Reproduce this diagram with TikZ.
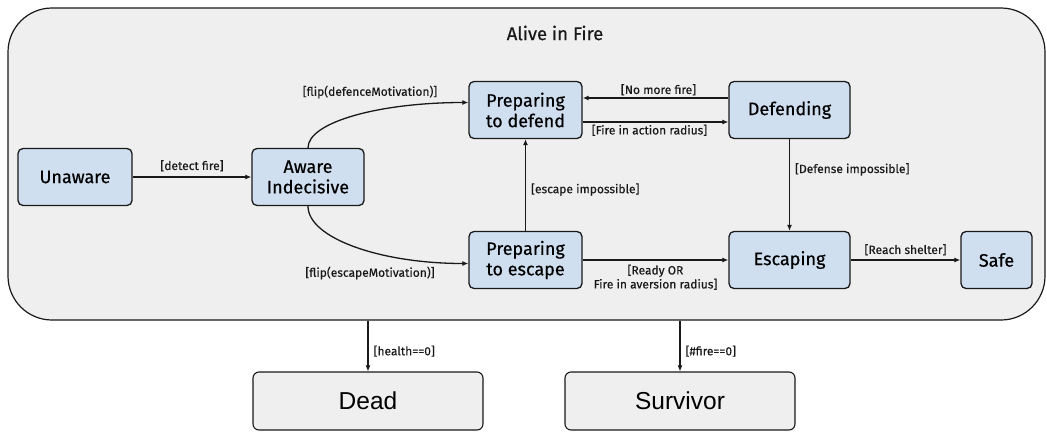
\documentclass[tikz,border=0pt]{standalone}
\usepackage{fontspec}
\setmainfont{Fira Sans}
\newfontfamily\arialfont{Liberation Sans}
\usetikzlibrary{arrows.meta}
\definecolor{stateblue}{RGB}{207,223,240}
\definecolor{bggrey}{RGB}{239,239,239}
\definecolor{edgec}{RGB}{25,25,25}
\tikzset{
  statebox/.style={draw=edgec, fill=stateblue, rounded corners=5pt, line width=1.3pt,
    minimum height=57pt, align=center, inner sep=2pt,
    font=\addfontfeatures{FakeBold=0.5}\fontsize{18}{20.5}\selectfont},
  endbox/.style={draw=edgec, fill=bggrey, rounded corners=6pt, line width=1.1pt,
    minimum height=58pt, minimum width=230pt, font=\arialfont\fontsize{24.5}{27}\selectfont},
  container/.style={draw=edgec, fill=bggrey, rounded corners=44pt, line width=1.2pt},
  arr/.style={draw=edgec, line width=1.3pt, -{Latex[length=6pt,width=5pt]}},
  lbl/.style={font=\addfontfeatures{FakeBold=0.3}\fontsize{12}{14}\selectfont, inner sep=2pt, text=edgec},
}
\begin{document}
\begin{tikzpicture}[x=1pt,y=-1pt]
\useasboundingbox (0,0) rectangle (1047,432);
\fill[white] (0,0) rectangle (1047,432);
\node[container, minimum width=1037pt, minimum height=312pt] (alive) at (526.5,164) {};
\node[font=\addfontfeatures{FakeBold=0.5}\fontsize{18.5}{21}\selectfont, text=edgec] (title) at (555,33) {Alive in Fire};

\node[statebox, minimum width=114pt] (unaware) at (75,177) {Unaware};
\node[statebox, minimum width=112pt] (aware) at (308,177) {Aware\\Indecisive};
\node[statebox, minimum width=113pt] (pdefend) at (525.5,110) {Preparing\\to defend};
\node[statebox, minimum width=121pt] (defending) at (789.5,110) {Defending};
\node[statebox, minimum width=113pt] (pescape) at (525.5,260) {Preparing\\to escape};
\node[statebox, minimum width=121pt] (escaping) at (789.5,260) {Escaping};
\node[statebox, minimum width=71pt] (safe) at (996.5,260) {Safe};

\node[endbox] (dead) at (368,401) {Dead};
\node[endbox] (survivor) at (680,401) {Survivor};

\coordinate (defin) at ([yshift=7.5pt]pdefend.west);
\coordinate (escin) at ([yshift=-3.5pt]pescape.west);

\draw[arr] (unaware) -- (aware) node[lbl, midway, above=3pt] {[detect fire]};
\draw[arr] (aware.north) .. controls +(0,-26) and +(-88,0) .. (defin)
  node[lbl] at (370,92) {[flip(defenceMotivation)]};
\draw[arr] (aware.south) .. controls +(0,32) and +(-88,0) .. (escin)
  node[lbl] at (370,273) {[flip(escapeMotivation)]};
\draw[arr] (pescape) -- (pdefend) node[lbl, pos=0.45, right=3pt] {[escape impossible]};
\draw[arr] ([yshift=12pt]defending.west) -- ([yshift=12pt]pdefend.east)
  node[lbl, midway, above=0pt, xshift=3pt] {[No more fire]};
\draw[arr] ([yshift=-12pt]pdefend.east) -- ([yshift=-12pt]defending.west)
  node[lbl, midway, below=0pt, xshift=-6pt] {[Fire in action radius]};
\draw[arr] (defending) -- (escaping) node[lbl, pos=0.33, right=3pt] {[Defense impossible]};
\draw[arr] (pescape) -- (escaping)
  node[lbl, midway, below=2pt, align=center] {[Ready OR\\Fire in aversion radius]};
\draw[arr] (escaping) -- (safe) node[lbl, midway, above=2pt] {[Reach shelter]};
\draw[arr] (dead.north |- alive.south) -- (dead) node[lbl, pos=0.6, right=3pt] {[health==0]};
\draw[arr] (survivor.north |- alive.south) -- (survivor) node[lbl, pos=0.6, right=3pt] {[\#fire==0]};
\end{tikzpicture}
\end{document}
